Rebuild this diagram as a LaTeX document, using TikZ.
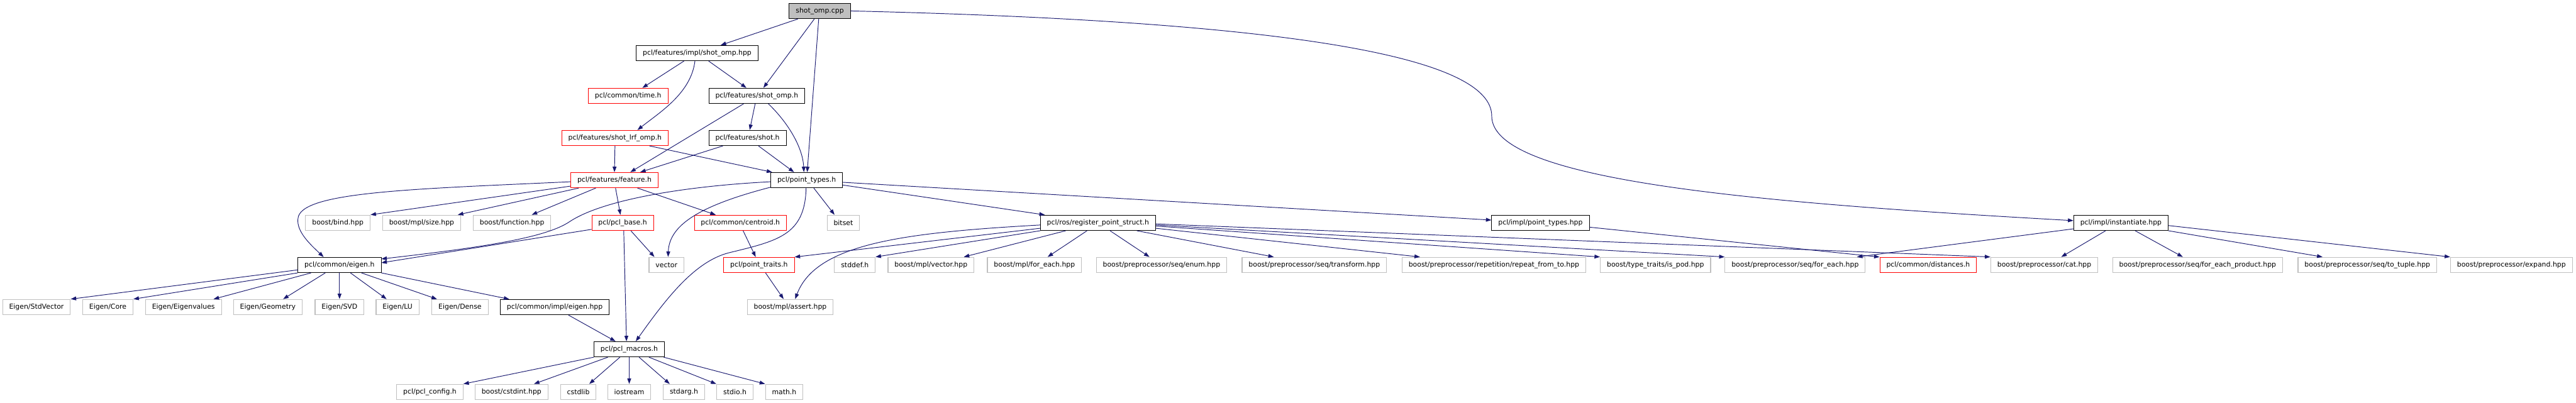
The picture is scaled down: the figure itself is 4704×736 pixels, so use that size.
\documentclass[tikz,border=0pt]{standalone}
\usepackage{fontspec}
\setmainfont{DejaVu Sans}
\usetikzlibrary{arrows.meta}
\definecolor{edgeblue}{HTML}{191970}
\definecolor{extgray}{HTML}{BFBFBF}
\definecolor{rootfill}{HTML}{BFBFBF}
\tikzset{
  box/.style={rectangle, inner xsep=12pt, inner ysep=0pt, minimum height=28pt,
              font=\fontsize{12.5}{15}\selectfont, line width=1pt, fill=white},
  docbox/.style={box, draw=black},
  extbox/.style={box, draw=extgray, line width=1.3pt},
  redbox/.style={box, draw=red},
  rootbox/.style={box, draw=black, fill=rootfill, line width=1.3pt},
  dep/.style={draw=edgeblue, line width=1.1pt, -{Triangle[length=10pt,width=7pt]}}
}
\begin{document}
\begin{tikzpicture}[x=1pt,y=-1pt]
\useasboundingbox (0,0) rectangle (4704,736);
% level 1-5
\node[rootbox] (root) at (1497,20) {shot\_omp.cpp};
\node[docbox] (ishot) at (1273,97) {pcl/features/impl/shot\_omp.hpp};
\node[redbox] (time) at (1147,175) {pcl/common/time.h};
\node[docbox] (shotomp) at (1382,175) {pcl/features/shot\_omp.h};
\node[redbox] (lrf) at (1123,252) {pcl/features/shot\_lrf\_omp.h};
\node[docbox] (shot) at (1365,252) {pcl/features/shot.h};
\node[redbox] (feature) at (1122,329) {pcl/features/feature.h};
\node[docbox] (pt) at (1473,329) {pcl/point\_types.h};
% level 6
\node[extbox] (bind) at (617,407) {boost/bind.hpp};
\node[extbox] (size) at (770,407) {boost/mpl/size.hpp};
\node[extbox] (func) at (935,407) {boost/function.hpp};
\node[redbox] (base) at (1137,407) {pcl/pcl\_base.h};
\node[redbox] (centroid) at (1352,407) {pcl/common/centroid.h};
\node[extbox] (bitset) at (1540,407) {bitset};
\node[docbox] (reg) at (2005,407) {pcl/ros/register\_point\_struct.h};
\node[docbox] (ipt) at (2813,407) {pcl/impl/point\_types.hpp};
\node[docbox] (inst) at (3873,407) {pcl/impl/instantiate.hpp};
% level 7
\node[docbox] (eigenh) at (620,484) {pcl/common/eigen.h};
\node[extbox] (vector) at (1217,484) {vector};
\node[redbox] (traits) at (1386,484) {pcl/point\_traits.h};
\node[extbox] (stddef) at (1561,484) {stddef.h};
\node[extbox] (mplvec) at (1700,484) {boost/mpl/vector.hpp};
\node[extbox] (mplfor) at (1889,484) {boost/mpl/for\_each.hpp};
\node[extbox] (enum) at (2121,484) {boost/preprocessor/seq/enum.hpp};
\node[extbox] (transform) at (2400,484) {boost/preprocessor/seq/transform.hpp};
\node[extbox] (repeat) at (2728,484) {boost/preprocessor/repetition/repeat\_from\_to.hpp};
\node[extbox] (ispod) at (3023,484) {boost/type\_traits/is\_pod.hpp};
\node[extbox] (seqfor) at (3278,484) {boost/preprocessor/seq/for\_each.hpp};
\node[redbox] (dist) at (3521,484) {pcl/common/distances.h};
\node[extbox] (cat) at (3733,484) {boost/preprocessor/cat.hpp};
\node[extbox] (fep) at (4013,484) {boost/preprocessor/seq/for\_each\_product.hpp};
\node[extbox] (totuple) at (4323,484) {boost/preprocessor/seq/to\_tuple.hpp};
\node[extbox] (expand) at (4586,484) {boost/preprocessor/expand.hpp};
% level 8
\node[extbox] (stdvec) at (66.6,561) {Eigen/StdVector};
\node[extbox] (core) at (197,561) {Eigen/Core};
\node[extbox] (eigval) at (335,561) {Eigen/Eigenvalues};
\node[extbox] (geom) at (489,561) {Eigen/Geometry};
\node[extbox] (svd) at (620,561) {Eigen/SVD};
\node[extbox] (lu) at (726,561) {Eigen/LU};
\node[extbox] (dense) at (840,561) {Eigen/Dense};
\node[docbox] (ieigen) at (1013,561) {pcl/common/impl/eigen.hpp};
\node[extbox] (assert) at (1443,561) {boost/mpl/assert.hpp};
% level 9
\node[docbox] (macros) at (1149,638) {pcl/pcl\_macros.h};
% level 10
\node[extbox] (config) at (785,716) {pcl/pcl\_config.h};
\node[extbox] (cstdint) at (934,716) {boost/cstdint.hpp};
\node[extbox] (cstdlib) at (1056,716) {cstdlib};
\node[extbox] (iostream) at (1149,716) {iostream};
\node[extbox] (stdarg) at (1249,716) {stdarg.h};
\node[extbox] (stdio) at (1342,716) {stdio.h};
\node[extbox] (math) at (1432,716) {math.h};

% edges: root
\draw[dep] ([xshift=-40pt]root.south) -- ([xshift=43pt]ishot.north);
\draw[dep] ([xshift=-10pt]root.south) -- ([xshift=12pt]shotomp.north);
\draw[dep] ([xshift=-2pt]root.south) -- ([xshift=1pt]pt.north);
\draw[dep] (root.east) .. controls (2400,40) and (2724,110) .. (2724,212) .. controls (2724,330) and (3200,370) .. ([yshift=4pt]inst.west);
% impl/shot_omp.hpp
\draw[dep] ([xshift=-24pt]ishot.south) -- ([xshift=26pt]time.north);
\draw[dep] ([xshift=-4pt]ishot.south) .. controls (1262,170) and (1205,205) .. ([xshift=41pt]lrf.north);
\draw[dep] ([xshift=21pt]ishot.south) -- ([xshift=-19pt]shotomp.north);
% shot_omp.h
\draw[dep] ([xshift=-24pt]shotomp.south) -- ([xshift=29pt]feature.north);
\draw[dep] ([xshift=-3pt]shotomp.south) -- ([xshift=4pt]shot.north);
\draw[dep] ([xshift=21pt]shotomp.south) .. controls (1440,225) and (1466,270) .. ([xshift=-5pt]pt.north);
% shot_lrf_omp.h, shot.h
\draw[dep] (lrf.south) -- (feature.north);
\draw[dep] ([xshift=63pt]lrf.south) -- ([xshift=-63pt]pt.north);
\draw[dep] ([xshift=-45pt]shot.south) -- ([xshift=47pt]feature.north);
\draw[dep] ([xshift=20pt]shot.south) -- ([xshift=-23pt]pt.north);
% feature.h
\draw[dep] ([yshift=-3pt]feature.west) .. controls (760,345) and (560,350) .. (545,395) .. controls (538,420) and (565,445) .. ([xshift=-29pt]eigenh.north);
\draw[dep] ([yshift=-11pt]feature.west) -- (bind.north east);
\draw[dep] ([xshift=-65pt]feature.south) -- ([xshift=66pt]size.north);
\draw[dep] ([xshift=-34pt]feature.south) -- ([xshift=36pt]func.north);
\draw[dep] ([xshift=2pt]feature.south) -- ([xshift=-4pt]base.north);
\draw[dep] ([xshift=42pt]feature.south) -- ([xshift=-45pt]centroid.north);
% point_types.h
\draw[dep] ([yshift=-3pt]pt.west) .. controls (1250,340) and (1100,365) .. (1040,405) .. controls (1000,432) and (900,450) .. ([yshift=11pt]eigenh.east);
\draw[dep] ([yshift=-13pt]pt.west) .. controls (1280,375) and (1222,410) .. ([xshift=3pt]vector.north);
\draw[dep] ([xshift=-1pt]pt.south) .. controls (1470,430) and (1420,440) .. (1330,462) .. controls (1270,478) and (1220,540) .. ([xshift=12pt]macros.north);
\draw[dep] ([xshift=13pt]pt.south) -- ([xshift=-16pt]bitset.north);
\draw[dep] ([yshift=-9pt]pt.east) -- ([xshift=-97pt]reg.north);
\draw[dep] ([yshift=-4pt]pt.east) -- ([yshift=5pt]ipt.west);
% pcl_base.h
\draw[dep] ([yshift=-12pt]base.west) -- ([yshift=4pt]eigenh.east);
\draw[dep] ([xshift=15pt]base.south) -- ([xshift=-22pt]vector.north);
\draw[dep] ([xshift=2pt]base.south) -- ([xshift=-5pt]macros.north);
% centroid, traits
\draw[dep] ([xshift=5pt]centroid.south) -- ([xshift=-6pt]traits.north);
\draw[dep] ([xshift=12pt]traits.south) -- ([xshift=-12pt]assert.north);
% register_point_struct.h
\draw[dep] ([yshift=-4pt]reg.west) .. controls (1650,425) and (1490,445) .. ([xshift=9pt]assert.north);
\draw[dep] ([yshift=-10pt]reg.west) -- (traits.north east);
\draw[dep] (reg.south west) -- (stddef.north east);
\draw[dep] ([xshift=-59pt]reg.south) -- ([xshift=60pt]mplvec.north);
\draw[dep] ([xshift=-20pt]reg.south) -- ([xshift=24pt]mplfor.north);
\draw[dep] ([xshift=22pt]reg.south) -- ([xshift=-22pt]enum.north);
\draw[dep] ([xshift=71pt]reg.south) -- ([xshift=-74pt]transform.north);
\draw[dep] ([yshift=-10pt]reg.east) -- ([xshift=-135pt]repeat.north);
\draw[dep] ([yshift=-6pt]reg.east) -- (ispod.north west);
\draw[dep] ([yshift=-4pt]reg.east) -- (seqfor.north west);
\draw[dep] ([yshift=-2pt]reg.east) -- (cat.north west);
% impl/point_types.hpp, instantiate.hpp
\draw[dep] ([yshift=-8pt]ipt.east) -- (dist.north west);
\draw[dep] ([yshift=-11pt]inst.west) -- ([xshift=113pt]seqfor.north);
\draw[dep] ([xshift=-28pt]inst.south) -- ([xshift=31pt]cat.north);
\draw[dep] ([xshift=26pt]inst.south) -- ([xshift=-27pt]fep.north);
\draw[dep] (inst.south east) -- ([xshift=-82pt]totuple.north);
\draw[dep] ([yshift=-5pt]inst.east) -- (expand.north west);
% eigen.h
\draw[dep] ([yshift=-9pt]eigenh.west) -- (stdvec.north east);
\draw[dep] (eigenh.south west) -- (core.north east);
\draw[dep] ([xshift=-52pt]eigenh.south) -- ([xshift=55pt]eigval.north);
\draw[dep] ([xshift=-26pt]eigenh.south) -- ([xshift=28pt]geom.north);
\draw[dep] (eigenh.south) -- (svd.north);
\draw[dep] ([xshift=20pt]eigenh.south) -- ([xshift=-20pt]lu.north);
\draw[dep] ([xshift=40pt]eigenh.south) -- ([xshift=-42pt]dense.north);
\draw[dep] (eigenh.south east) -- ([xshift=-83pt]ieigen.north);
\draw[dep] ([xshift=25pt]ieigen.south) -- ([xshift=-25pt]macros.north);
% pcl_macros.h
\draw[dep] (macros.south west) -- (config.north east);
\draw[dep] ([xshift=-39pt]macros.south) -- ([xshift=41pt]cstdint.north);
\draw[dep] ([xshift=-17pt]macros.south) -- ([xshift=20pt]cstdlib.north);
\draw[dep] (macros.south) -- (iostream.north);
\draw[dep] ([xshift=18pt]macros.south) -- ([xshift=-26pt]stdarg.north);
\draw[dep] ([xshift=36pt]macros.south) -- ([xshift=-34pt]stdio.north);
\draw[dep] ([xshift=63pt]macros.south) -- (math.north west);
\end{tikzpicture}
\end{document}
